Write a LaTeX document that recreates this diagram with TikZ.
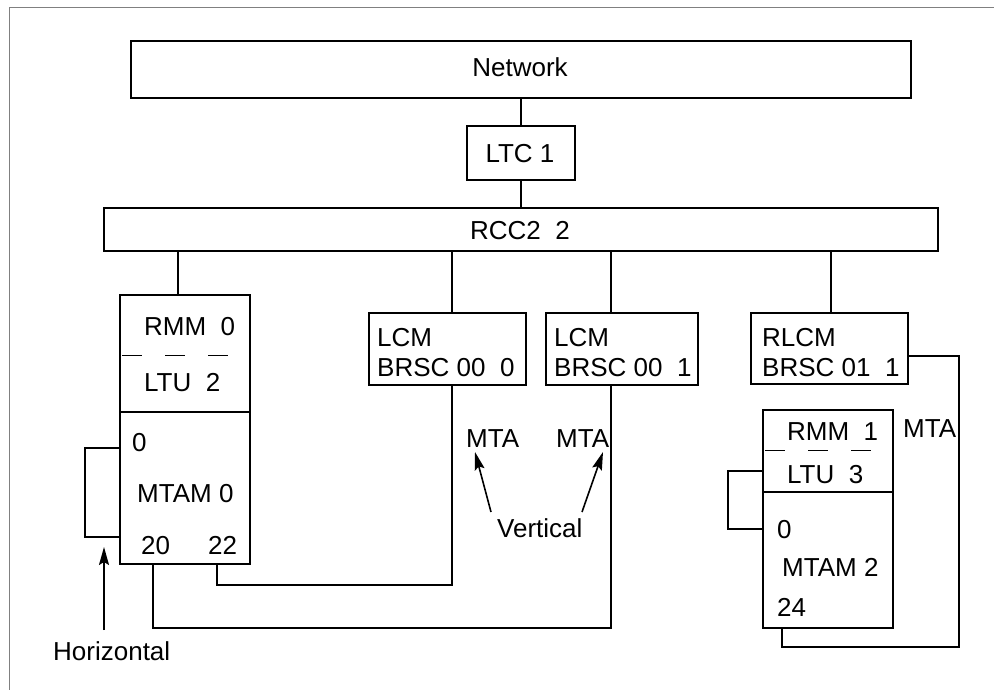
\documentclass[tikz,border=0pt]{standalone}
\usepackage{fontspec}
\setmainfont{Liberation Sans}
\usetikzlibrary{arrows.meta}
\begin{document}
\begin{tikzpicture}[x=1pt,y=-1pt,
  box/.style={draw, line width=2pt, inner sep=0pt, anchor=north west},
  conn/.style={line width=1.6pt},
  divline/.style={line width=2pt},
  dashdiv/.style={line width=1pt, dash pattern=on 20pt off 23pt, dash phase=-3pt},
  lbl/.style={anchor=base west, inner sep=0pt, font=\fontsize{26}{30}\selectfont},
  clbl/.style={anchor=base, inner sep=0pt, font=\fontsize{26}{30}\selectfont},
  arr/.style={line width=1.6pt, -{Stealth[length=18pt,width=10pt,inset=3pt]}}]
\useasboundingbox (0,0) rectangle (994,690);
\draw[gray, line width=1pt] (9,690) -- (9,8) -- (994,8);

% main boxes
\node[box, minimum width=780pt, minimum height=57pt] (net) at (130,40) {};
\node[clbl] (netT) at (520,77) {Network};
\node[box, minimum width=108pt, minimum height=54pt] (ltc) at (466,125) {};
\node[clbl] (ltcT) at (520,163) {LTC 1};
\node[box, minimum width=834pt, minimum height=43pt] (rcc) at (103,207) {};
\node[clbl] (rccT) at (520,240) {RCC2~~2};

\draw[conn] (net.south) -- (ltc.north);
\draw[conn] (ltc.south) -- (rcc.north);

% left RMM 0 / MTAM 0
\node[box, minimum width=130pt, minimum height=269pt] (rmm0) at (119,294) {};
\draw[dashdiv] (rmm0.west |- 0,355) -- (rmm0.east |- 0,355);
\draw[divline] (rmm0.west |- 0,412) -- (rmm0.east |- 0,412);
\node[lbl] (rmm0T) at (144,335) {RMM~~0};
\node[lbl] (ltu2T) at (144,391) {LTU~~2};
\node[lbl] (m0p0) at (132,451) {0};
\node[lbl] (mtam0T) at (137,502) {MTAM 0};
\node[lbl] (m0p20) at (141,554) {20};
\node[lbl] (m0p22) at (208,554) {22};

% LCM boxes
\node[box, minimum width=157pt, minimum height=72pt] (lcm0) at (368,312) {};
\node[lbl] (lcm0a) at (377,346) {LCM};
\node[lbl] (lcm0b) at (377,376) {BRSC 00~~0};
\node[box, minimum width=152pt, minimum height=72pt] (lcm1) at (545,312) {};
\node[lbl] (lcm1a) at (554,346) {LCM};
\node[lbl] (lcm1b) at (554,376) {BRSC 00~~1};
\node[box, minimum width=157pt, minimum height=71pt] (rlcm) at (750,312) {};
\node[lbl] (rlcma) at (762,346) {RLCM};
\node[lbl] (rlcmb) at (762,376) {BRSC 01~~1};

% right RMM 1 / MTAM 2
\node[box, minimum width=130pt, minimum height=218pt] (rmm1) at (762,409) {};
\draw[dashdiv] (rmm1.west |- 0,450) -- (rmm1.east |- 0,450);
\draw[divline] (rmm1.west |- 0,492) -- (rmm1.east |- 0,492);
\node[lbl] (rmm1T) at (787,440) {RMM~~1};
\node[lbl] (ltu3T) at (787,483) {LTU~~3};
\node[lbl] (m2p0) at (777,538) {0};
\node[lbl] (mtam2T) at (782,576) {MTAM 2};
\node[lbl] (m2p24) at (777,616) {24};

% drops from RCC2
\coordinate (d0) at (178,294);
\coordinate (d1) at (452,312);
\coordinate (d2) at (611,312);
\coordinate (d3) at (831,312);
\draw[conn] (rcc.south -| d0) -- (d0);
\draw[conn] (rcc.south -| d1) -- (d1);
\draw[conn] (rcc.south -| d2) -- (d2);
\draw[conn] (rcc.south -| d3) -- (d3);

% MTA connections
\coordinate (s20) at (153,563);
\coordinate (s22) at (217,563);
\coordinate (b0) at (452,384);
\coordinate (b1) at (611,384);
\draw[conn] (s22) |- (452,585) -- (b0);
\draw[conn] (s20) |- (611,628) -- (b1);

\coordinate (rr) at (907,356);
\coordinate (s24) at (782,627);
\draw[conn] (rr) -- (959,356) -- (959,647) -| (s24);

% horizontal loops
\coordinate (h0a) at (119,448);
\coordinate (h0b) at (119,537);
\draw[conn] (h0a) -- (85,448) -- (85,537) -- (h0b);
\coordinate (h2a) at (762,471);
\coordinate (h2b) at (762,529);
\draw[conn] (h2a) -- (728,471) -- (728,529) -- (h2b);

% labels
\node[lbl] (mta1) at (466,447) {MTA};
\node[lbl] (mta2) at (556,447) {MTA};
\node[lbl] (mta3) at (903,437) {MTA};
\node[lbl] (vert) at (497,537) {Vertical};
\node[lbl] (horiz) at (53,660) {Horizontal};

\coordinate (va) at (491,512);
\coordinate (vb) at (582,512);
\draw[arr] (va) -- (475,452);
\draw[arr] (vb) -- (603,452);
\coordinate (ha) at (104,630);
\draw[arr] (ha) -- (104,547);
\end{tikzpicture}
\end{document}
